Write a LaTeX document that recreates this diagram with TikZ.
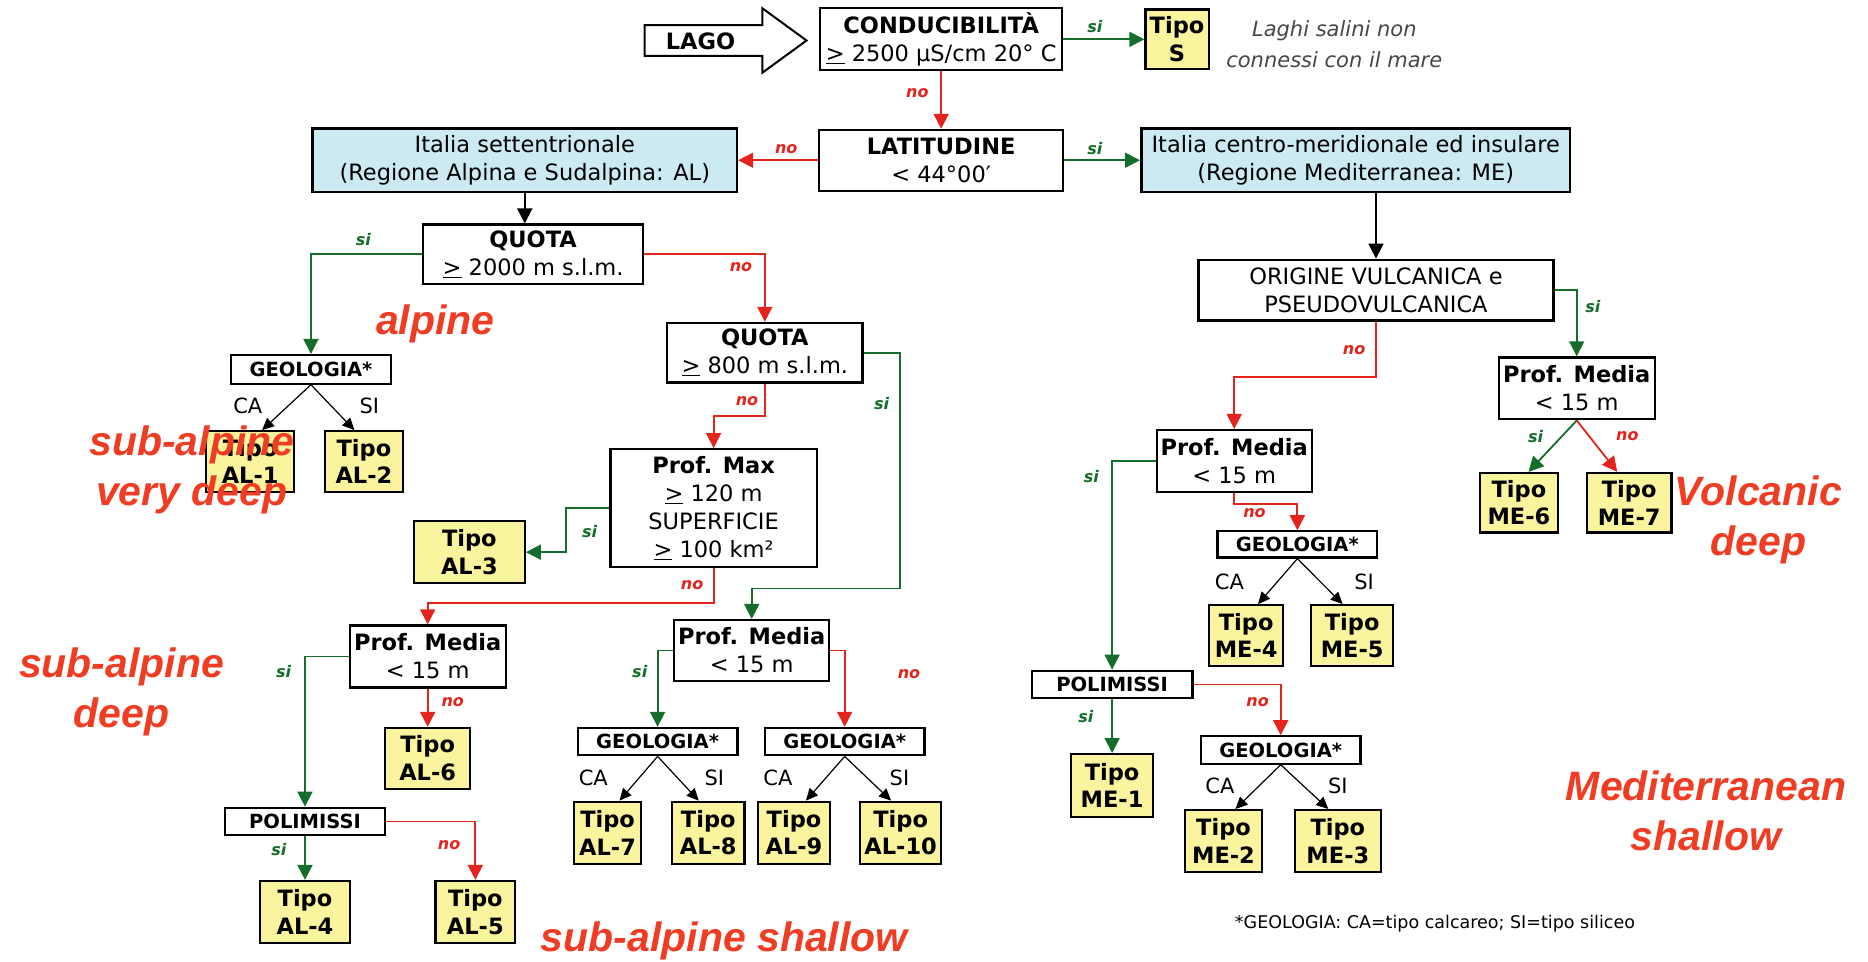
\documentclass[tikz,border=0pt]{standalone}
\usepackage{fontspec}
\setmainfont{DejaVu Sans}
\newfontfamily\annfont{Liberation Sans}
\usetikzlibrary{arrows.meta}

\definecolor{sigreen}{RGB}{20,110,42}
\definecolor{nored}{RGB}{228,35,28}
\definecolor{tipoyel}{RGB}{250,244,158}
\definecolor{regblue}{RGB}{204,234,242}
\definecolor{annred}{RGB}{240,60,35}
\definecolor{notegray}{RGB}{70,70,70}

\newcommand{\pxu}{1.1913pt}
\newcommand{\uge}{\underline{>}}

\begin{document}
\begin{tikzpicture}
  [x=1.1913pt, y=-1.1913pt, every node/.style={inner sep=0pt},
   box/.style={draw, line width=2.2pt, fill=white, align=center, font=\fontsize{22.5}{28}\selectfont},
   sz/.style 2 args={minimum width=#1*\pxu, minimum height=#2*\pxu},
   tipo/.style={box, fill=tipoyel, font=\bfseries\fontsize{22.5}{27.5}\selectfont},
   reg/.style={box, fill=regblue, line width=2.6pt},
   smallbox/.style={box, font=\bfseries\fontsize{19.5}{22}\selectfont},
   siarr/.style={draw=sigreen, line width=1.8pt, -{Triangle[length=15pt,width=15pt]}},
   noarr/.style={draw=nored, line width=1.8pt, -{Triangle[length=15pt,width=15pt]}},
   blkarr/.style={draw=black, line width=1.8pt, -{Triangle[length=15pt,width=15pt]}},
   caarr/.style={draw=black, line width=1.2pt, -{Triangle[length=12pt,width=11pt]}},
   silbl/.style={text=sigreen, font=\bfseries\itshape\fontsize{16}{16}\selectfont},
   nolbl/.style={text=nored, font=\bfseries\itshape\fontsize{16}{16}\selectfont},
   calbl/.style={font=\fontsize{21}{21}\selectfont},
   ann/.style={text=annred, align=center, anchor=base, font=\annfont\bfseries\itshape\fontsize{41}{50}\selectfont}]

  \useasboundingbox (0,0) rectangle (1568,806.7);

  % top row
  \draw[line width=2pt, fill=white] (541,21) -- (640,21) -- (640,7) -- (677,34)
    -- (640,61) -- (640,47) -- (541,47) -- cycle;
  \node[font=\bfseries\fontsize{22.5}{22}\selectfont] (lago) at (588,35) {LAGO};
  \node[box, sz={203}{52}] (cond) at (790,33) {{\bfseries CONDUCIBILITÀ}\\\uge{} 2500 µS/cm 20° C};
  \node[tipo, sz={53}{50}] (tipoS) at (988,33) {Tipo\\S};
  \node[align=center, text=notegray, font=\itshape\fontsize{21}{31.7}\selectfont] (note) at (1120,37)
    {Laghi salini non\\connessi con il mare};
  \node[box, sz={205}{51}] (lat) at (790,134.5) {{\bfseries LATITUDINE}\\< 44°00′};
  \node[reg, sz={356}{53}] (north) at (440.5,134.5) {Italia settentrionale\\(Regione Alpina e Sudalpina: AL)};
  \node[reg, sz={360}{53}] (south) at (1138,134.5) {Italia centro-meridionale ed insulare\\(Regione Mediterranea: ME)};

  % Regione Alpina
  \node[box, sz={185}{50}] (quotaA) at (447.5,213.5) {{\bfseries QUOTA}\\\uge{} 2000 m s.l.m.};
  \node[smallbox, sz={134}{24}] (geoA) at (261,310) {GEOLOGIA*};
  \node[tipo, sz={74}{51}] (al1) at (210,387.5) {Tipo\\AL-1};
  \node[tipo, sz={65}{51}] (al2) at (305.5,387.5) {Tipo\\AL-2};
  \node[box, sz={164}{50}] (quotaB) at (642,296) {{\bfseries QUOTA}\\\uge{} 800 m s.l.m.};
  \node[box, sz={173}{99}] (pmax) at (599,426.5) {{\bfseries Prof. Max}\\\uge{} 120 m\\SUPERFICIE\\\uge{} 100 km²};
  \node[tipo, sz={93}{52}] (al3) at (394,463.5) {Tipo\\AL-3};
  \node[box, sz={131}{52}] (pmedA) at (359,551) {{\bfseries Prof. Media}\\< 15 m};
  \node[tipo, sz={71}{51}] (al6) at (359,636.5) {Tipo\\AL-6};
  \node[smallbox, sz={134}{23}] (polA) at (256,689.5) {POLIMISSI};
  \node[tipo, sz={75}{52}] (al4) at (256,765.5) {Tipo\\AL-4};
  \node[tipo, sz={67}{52}] (al5) at (399,765.5) {Tipo\\AL-5};
  \node[box, sz={130}{51}] (pmedB) at (631,546) {{\bfseries Prof. Media}\\< 15 m};
  \node[smallbox, sz={134}{23}] (geoB1) at (552,622.5) {GEOLOGIA*};
  \node[smallbox, sz={134}{23}] (geoB2) at (709,622.5) {GEOLOGIA*};
  \node[tipo, sz={56}{52}] (al7) at (510,699) {Tipo\\AL-7};
  \node[tipo, sz={61}{52}] (al8) at (594.5,699) {Tipo\\AL-8};
  \node[tipo, sz={61}{52}] (al9) at (666.5,699) {Tipo\\AL-9};
  \node[tipo, sz={68}{52}] (al10) at (756,699) {Tipo\\AL-10};

  % Regione Mediterranea
  \node[box, sz={298}{51}] (origine) at (1155,243.5) {ORIGINE VULCANICA e\\PSEUDOVULCANICA};
  \node[box, sz={131}{52}] (pmedC) at (1323.5,326) {{\bfseries Prof. Media}\\< 15 m};
  \node[tipo, sz={66}{50}] (me6) at (1275,422) {Tipo\\ME-6};
  \node[tipo, sz={71}{50}] (me7) at (1367.5,422) {Tipo\\ME-7};
  \node[box, sz={130}{52}] (pmedD) at (1036,387) {{\bfseries Prof. Media}\\< 15 m};
  \node[smallbox, sz={134}{22}] (geoC1) at (1089,457) {GEOLOGIA*};
  \node[tipo, sz={62}{51}] (me4) at (1046,533.5) {Tipo\\ME-4};
  \node[tipo, sz={69}{51}] (me5) at (1135,533.5) {Tipo\\ME-5};
  \node[smallbox, sz={135}{23}] (polC) at (933.5,574.5) {POLIMISSI};
  \node[tipo, sz={69}{53}] (me1) at (933.5,659.5) {Tipo\\ME-1};
  \node[smallbox, sz={134}{23}] (geoC2) at (1075,629.5) {GEOLOGIA*};
  \node[tipo, sz={65}{52}] (me2) at (1027,706) {Tipo\\ME-2};
  \node[tipo, sz={72}{52}] (me3) at (1123,706) {Tipo\\ME-3};

  \node[font=\fontsize{17.5}{17.5}\selectfont] (foot) at (1204.5,775)
    {*GEOLOGIA: CA=tipo calcareo; SI=tipo siliceo};

  % connectors
  \foreach \from/\to in {cond/tipoS, lat/south, polA/al4, polC/me1}
    \draw[siarr] (\from) -- (\to);
  \foreach \from/\to in {cond/lat, lat/north, pmedA/al6}
    \draw[noarr] (\from) -- (\to);
  \draw[blkarr] (north.south) -- (north.south |- quotaA.north);
  \draw[blkarr] (origine.north |- south.south) -- (origine.north);
  \draw[siarr] (quotaA.west) -| (geoA.north);
  \draw[noarr] (quotaA.east) -| (quotaB.north);
  \draw[noarr] (quotaB.south) -- ++(0,27.5) -| (pmax.north);
  \coordinate (qbturn) at (755.5,494);
  \draw[siarr] (quotaB.east) -| (qbturn) -| (pmedB.north);
  \draw[siarr] (pmax.west) -- ++(-36.6,0) |- (al3.east);
  \draw[noarr] (pmax.south) -- ++(0,29) -| (pmedA.north);
  \draw[siarr] (pmedA.west) -| (polA.north);
  \draw[noarr] (polA.east) -| (al5.north);
  \draw[siarr] (pmedB.west) -| (geoB1.north);
  \draw[noarr] (pmedB.east) -| (geoB2.north);
  \draw[siarr] (origine.east) -| (pmedC.north);
  \draw[noarr] (origine.south) -- ++(0,46.5) -| (pmedD.north);
  \draw[siarr] (pmedD.west) -| (polC.north);
  \draw[noarr] (pmedD.south) -- ++(0,9) -| (geoC1.north);
  \draw[noarr] (polC.east) -| (geoC2.north);
  \draw[siarr] (pmedC.south) -- ([xshift=8*\pxu]me6.north);
  \draw[noarr] (pmedC.south) -- ([xshift=-10*\pxu]me7.north);
  \foreach \g/\l/\r in {geoA/al1/al2, geoB1/al7/al8, geoB2/al9/al10, geoC1/me4/me5, geoC2/me2/me3} {
    \draw[caarr] (\g.south) -- ([xshift=10*\pxu]\l.north);
    \draw[caarr] (\g.south) -- ([xshift=-8*\pxu]\r.north);
  }

  % labels
  \foreach \x/\y [count=\i] in {919/22, 919/125, 305/201, 740/339, 495/446, 238/564,
      234/713.5, 537/564, 1337/257, 1289/366.5, 916/400, 911.5/601.6}
    \node[silbl] (si\i) at (\x,\y) {si};
  \foreach \x/\y [count=\i] in {770/78, 660/125, 622/224, 627/337, 581/491, 380/589,
      377/709, 763/565.5, 1136.6/294, 1366/366.5, 1053/430.8, 1055.6/589}
    \node[nolbl] (no\i) at (\x,\y) {no};
  \foreach \x/\y [count=\i] in {208/341, 498/653, 653/653, 1032/488, 1024/660}
    \node[calbl] (ca\i) at (\x,\y) {CA};
  \foreach \x/\y [count=\i] in {310/341, 599.6/653, 755/653, 1145/488, 1123/660}
    \node[calbl] (sil\i) at (\x,\y) {SI};

  % red notes (anchor base = last line)
  \node[ann] (alpine) at (365.5,281) {alpine};
  \node[ann] (subvd) at (161,424) {sub-alpine\\very deep};
  \node[ann] (subd) at (102,611) {sub-alpine\\deep};
  \node[ann] (subsh) at (608,799) {sub-alpine shallow};
  \node[ann] (volc) at (1476,466) {Volcanic\\deep};
  \node[ann] (medsh) at (1432,713.6) {Mediterranean\\shallow};
\end{tikzpicture}
\end{document}
